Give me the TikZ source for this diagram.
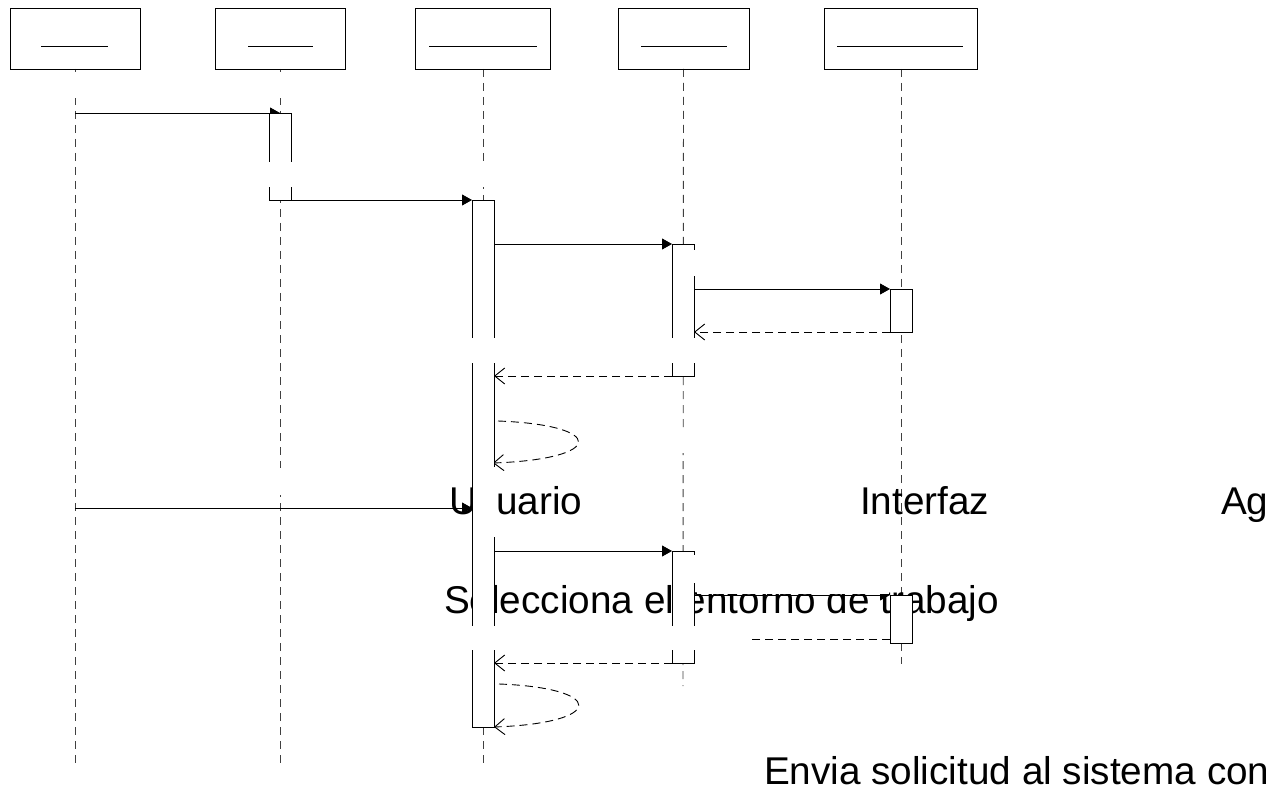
\documentclass[tikz,border=0pt]{standalone}
\usepackage{fontspec}
\setmainfont{Liberation Sans}
\usetikzlibrary{arrows.meta}
\pgfdeclarelayer{back}
\pgfdeclarelayer{mid}
\pgfdeclarelayer{front}
\pgfsetlayers{back,mid,main,front}

\begin{document}
\begin{tikzpicture}[x=1pt,y=-1pt,
  headbox/.style={draw, line width=0.9pt, minimum height=61pt, inner sep=0pt, outer sep=0pt},
  lifeline/.style={draw=black!75, line width=0.9pt, dash pattern=on 8pt off 6pt},
  actbox/.style={draw, fill=white, line width=0.9pt, minimum width=22pt, inner sep=0pt, outer sep=0pt},
  callmsg/.style={line width=0.9pt, -{Triangle[length=10pt,width=11pt]}},
  retmsg/.style={line width=0.9pt, dash pattern=on 8pt off 5pt, -{Straight Barb[length=10pt,width=16pt]}},
  blank/.style={fill=white},
  caption/.style={font=\fontsize{38.7}{45}\selectfont, inner sep=0pt, outer sep=0pt, anchor=base west},
]
\useasboundingbox (0,0) rectangle (1266,794);

% object heads
\node[headbox, minimum width=130pt] (h1) at (75,38.5) {};
\node[headbox, minimum width=130pt] (h2) at (280,38.5) {};
\node[headbox, minimum width=135pt] (h3) at (483,38.5) {};
\node[headbox, minimum width=131pt] (h4) at (683.5,38.5) {};
\node[headbox, minimum width=153pt] (h5) at (901,38.5) {};
\draw[line width=0.9pt] (41,46) -- (108,46);
\draw[line width=0.9pt] (248,46) -- (313,46);
\draw[line width=0.9pt] (429,46) -- (537,46);
\draw[line width=0.9pt] (641,46) -- (727,46);
\draw[line width=0.9pt] (837,46) -- (963,46);

% activation boxes
\node[actbox, minimum height=87pt]  (a1)  at (280,156.5) {};
\node[actbox, minimum height=527pt] (a2)  at (483,463.5) {};
\node[actbox, minimum height=132pt] (a3)  at (683,310) {};
\node[actbox, minimum height=43pt]  (a5a) at (901,310.5) {};
\node[actbox, minimum height=112pt] (a4)  at (683,607) {};
\node[actbox, minimum height=48pt]  (a5b) at (901,619) {};

% lifeline ends and message points
\coordinate (l1end) at (75,768);
\coordinate (l2end) at (280,768);
\coordinate (l3end) at (483,768);
\coordinate (l4end) at (683,686);
\coordinate (l5end) at (901,664);
\coordinate (m1s) at (75,113);
\coordinate (m5s) at (75,508);
\coordinate (s1a) at (498,421);
\coordinate (s1b) at (493,463);
\coordinate (s2a) at (499,684);
\coordinate (r3s) at (890,639);

\begin{pgfonlayer}{back}
  \draw[lifeline] (h1.south) -- (l1end);
  \draw[lifeline] (h2.south) -- (l2end);
  \draw[lifeline] (h3.south) -- (l3end);
  \draw[lifeline] (h4.south) -- (l4end);
  \draw[lifeline] (h5.south) -- (l5end);
  \node[caption] (t1) at (449,514) {Usuario};
  \node[caption] (t2) at (860,514) {Interfaz};
  \node[caption] (t3) at (1221,514) {Ag};
  \node[caption] (t4) at (444,613) {Selecciona el entorno de trabajo};
  \node[caption] (t5) at (764,784) {Envia solicitud al sistema con};
\end{pgfonlayer}

\begin{pgfonlayer}{mid}
  \draw[callmsg] (m1s) -- (a1.north);
  \draw[callmsg] (a1.south west) -- (a2.north west);
  \draw[callmsg] (a2.east |- a3.north) -- (a3.north west);
  \draw[callmsg] (a3.east |- a5a.north) -- (a5a.north west);
  \draw[retmsg] (a5a.south west) -- (a3.east |- a5a.south);
  \draw[retmsg] (a3.south west) -- (a2.east |- a3.south);
  \draw[retmsg] (s1a) .. controls (606,425) and (606,459) .. (s1b);
  \draw[callmsg] (m5s) -- (a2.west |- m5s);
  \draw[callmsg] (a2.east |- a4.north) -- (a4.north west);
  \draw[callmsg] (a4.east |- a5b.north) -- (a5b.north west);
  \draw[retmsg] (r3s) -- (a4.east |- r3s);
  \draw[retmsg] (a4.south west) -- (a2.east |- a4.south);
  \draw[retmsg] (s2a) .. controls (606,688) and (606,723) .. (a2.south east);
\end{pgfonlayer}

% blank label areas laid over the lines
\begin{pgfonlayer}{front}
  \fill[blank] (65,72) rectangle (292,98);
  \fill[blank] (262,162) rectangle (490,187);
  \fill[blank] (689,250) rectangle (880,276);
  \fill[blank] (466,338) rectangle (700,363);
  \fill[blank] (675,428) rectangle (692,453);
  \fill[blank] (270,468) rectangle (292,495);
  \fill[blank] (491.5,467) rectangle (497,537);
  \fill[blank] (690,555) rectangle (700,583);
  \fill[blank] (697,555) rectangle (889,594.4);
  \fill[blank] (466,626) rectangle (752,650);
\end{pgfonlayer}
\end{tikzpicture}
\end{document}
